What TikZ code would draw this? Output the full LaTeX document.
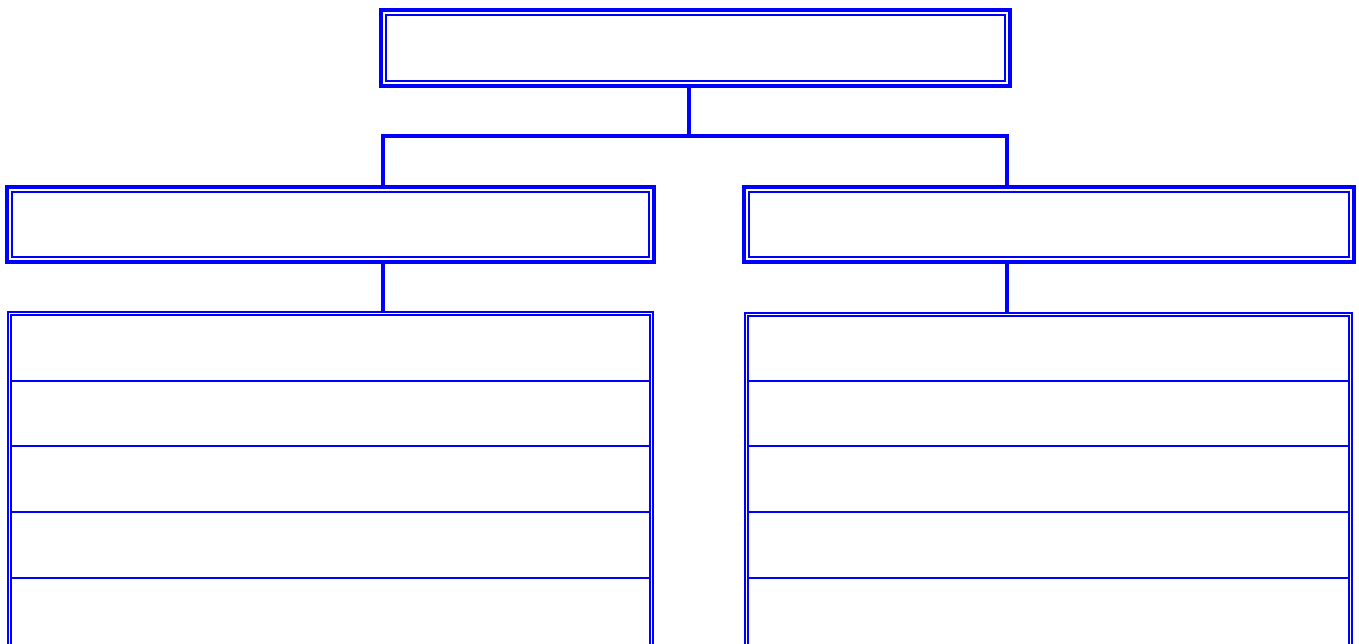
\documentclass[tikz,border=0pt]{standalone}
\usetikzlibrary{calc}
\definecolor{orgblue}{RGB}{0,0,255}
\tikzset{
  x=1pt, y=-1pt,
  headbox/.style={draw=orgblue, line width=4pt, inner sep=0pt, outer sep=0pt, rectangle},
  headinner/.style={draw=orgblue, line width=2pt},
  listbox/.style={draw=orgblue, line width=1.9pt, double=white, double distance=1.2pt, inner sep=0pt, outer sep=0pt, rectangle},
  rowline/.style={draw=orgblue, line width=2pt},
  conn/.style={draw=orgblue, line width=4pt, line join=miter},
}
\begin{document}
\begin{tikzpicture}
\useasboundingbox (0,0) rectangle (1359,643);
\clip (0,0) rectangle (1359,643);
% level 1
\node[headbox, minimum width=629pt, minimum height=76pt] (top) at (695.5,48) {};
% level 2
\node[headbox, minimum width=646.5pt, minimum height=75pt] (l2a) at (330.25,224.5) {};
\node[headbox, minimum width=610pt, minimum height=75pt] (l2b) at (1049,224.5) {};
% inner lines of the head boxes
\foreach \nn in {top,l2a,l2b}{
  \draw[headinner] ($(\nn.north west)+(4.6,4.6)$) rectangle ($(\nn.south east)+(-4.6,-4.6)$);
}
% level 3 lists
\node[listbox, minimum width=642pt, minimum height=400pt] (lista) at (330.5,513.5) {};
\node[listbox, minimum width=604pt, minimum height=400pt] (listb) at (1048.5,514.5) {};
% row separators
\foreach \yy in {381,446,512,578}{
  \draw[rowline] let \p1=(lista.west), \p2=(lista.east) in (\x1+2.5pt,-\yy pt) -- (\x2-2.5pt,-\yy pt);
  \draw[rowline] let \p1=(listb.west), \p2=(listb.east) in (\x1+2.5pt,-\yy pt) -- (\x2-2.5pt,-\yy pt);
}
% connectors
\coordinate (trunk) at (689,135.5);
\coordinate (bl) at (383,135.5);
\coordinate (br) at (1007,135.5);
\draw[conn] (top.south -| trunk) -- (trunk);
\draw[conn] (l2a.north -| bl) |- (br) -- (l2b.north -| br);
\draw[conn, shorten >=1.2pt] (l2a.south -| bl) -- (lista.north -| bl);
\draw[conn, shorten >=1.2pt] (l2b.south -| br) -- (listb.north -| br);
\end{tikzpicture}
\end{document}
